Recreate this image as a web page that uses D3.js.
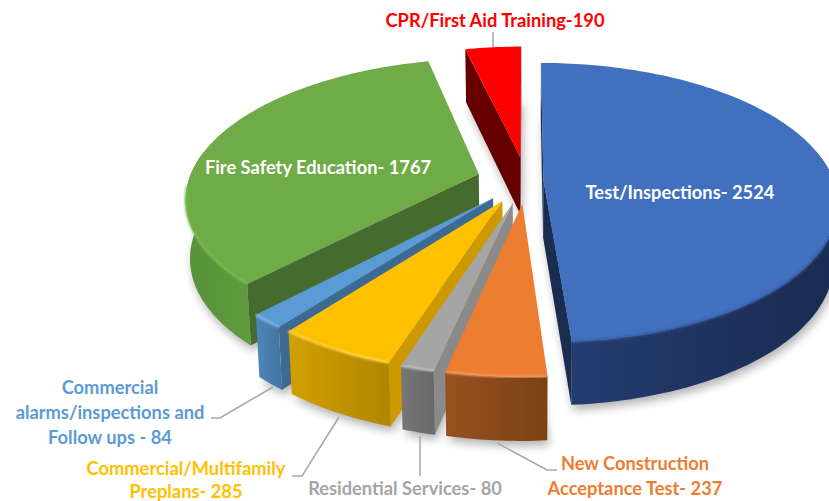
<!DOCTYPE html>
<html>
<head>
<meta charset="utf-8">
<script src="https://cdn.jsdelivr.net/npm/d3@7/dist/d3.min.js"></script>
<style>
  html, body { margin: 0; padding: 0; background: #fff; overflow: hidden; }
  text { font-family: Lato, 'Open Sans', sans-serif; font-weight: 700; font-size: 18.3px; text-anchor: middle; }
</style>
</head>
<body>
<div id="chart"></div>
<script>
// chart data, clockwise from 12 o'clock
var categories = ['Test/Inspections', 'New Construction Acceptance Test', 'Residential Services', 'Commercial/Multifamily Preplans', 'Commercial alarms/inspections and Follow ups', 'Fire Safety Education', 'CPR/First Aid Training']
var values = [2524, 237, 80, 285, 84, 1767, 190]
var labelLines = [
  ['Test/Inspections- 2524'],
  ['New Construction', 'Acceptance Test- 237'],
  ['Residential Services- 80'],
  ['Commercial/Multifamily', 'Preplans- 285'],
  ['Commercial', 'alarms/inspections and', 'Follow ups - 84'],
  ['Fire Safety Education- 1767'],
  ['CPR/First Aid Training-190']
]

// styles
var topColors = ['#4170bf', '#ed7d31', '#a5a5a5', '#ffc000', '#5b9bd5', '#6fab46', '#ff0000']
var faceColors = ['#1a2c50', '#8a4a1c', '#8a8a8a', '#cc9a00', '#3d6a94', '#466b2e', '#660000']
var rimLight = ['#243c70', '#98501f', '#777777', '#d1a000', '#4e86bd', '#57903a', '#660000']
var rimDark = ['#1a2b50', '#7a4215', '#686868', '#b08500', '#44749f', '#5f9c3d', '#660000']
var bevelColors = ['#35599c', '#f7a26a', '#c9c9c9', '#ffdc55', '#8cc2ee', '#7dbb55', '#ff0000']
var textColors = ['#ffffff', '#ed7d31', '#a5a5a5', '#ffc000', '#5b9bd5', '#ffffff', '#ff0000']

// layout
var width = 829
var height = 501
var explode = [0.06, 0.17, 0.17, 0.17, 0.17, 0.17, 0.17]
var drawOrder = [6, 5, 0, 4, 3, 2, 1]
var labelPos = [[680, 199], [635, 470], [405, 495], [186, 475], [110, 394], [318, 174], [495, 27]]
var leaders = [
  [[493, 47], [493, 32]],
  [[497, 443], [547, 470], [557, 470]],
  [[420, 436], [420, 476]],
  [[339, 417], [302, 476], [292, 476]],
  [[273, 387], [220, 418], [211, 418]]
]

// perspective view of the pie plane
var cam = { cx: 526, cy: 180, fx: 290, fy: 136, p: 0.164, depth: 58, pz: 0.0814, shrink: 0.987 }

function project (X, Y, lower) {
  var d = 1 + cam.p * Y
  var sx = cam.cx + cam.fx * X / d
  var sy = cam.cy - cam.fy * Y / d
  if (lower) {
    sx = cam.cx + (sx - cam.cx) * cam.shrink
    sy += cam.depth / (1 + cam.pz * Y)
  }
  return [sx, sy]
}

function polyArea (pts) {
  return d3.sum(pts, function (q, i) {
    var n = pts[(i + 1) % pts.length]
    return q[0] * n[1] - n[0] * q[1]
  })
}

var line = d3.line()
var svg = d3.select('#chart').append('svg')
  .attr('width', width)
  .attr('height', height)
  .style('display', 'block')

var defs = svg.append('defs')
defs.append('filter').attr('id', 'shadowBlur')
  .attr('x', '-20%').attr('y', '-20%').attr('width', '140%').attr('height', '140%')
  .append('feGaussianBlur').attr('stdDeviation', 5)
defs.append('filter').attr('id', 'bevelBlur')
  .attr('x', '-10%').attr('y', '-10%').attr('width', '120%').attr('height', '120%')
  .append('feGaussianBlur').attr('stdDeviation', 0.8)

var pie = d3.pie().sort(null).value(function (d) { return d })
var arcs = pie(values)

var slices = arcs.map(function (a, i) {
  var mid = (a.startAngle + a.endAngle) / 2
  var ex = explode[i] * Math.sin(mid)
  var ey = explode[i] * Math.cos(mid)
  var point = function (ang, lower) {
    return project(ex + Math.sin(ang), ey + Math.cos(ang), lower)
  }
  var outer = function (from, to, lower) {
    var n = Math.max(2, Math.ceil((to - from) / 0.02))
    return d3.range(n + 1).map(function (k) { return point(from + (to - from) * k / n, lower) })
  }
  return {
    i: i,
    a: a,
    apexTop: project(ex, ey, false),
    apexLow: project(ex, ey, true),
    point: point,
    outer: outer
  }
})

// soft shadow behind everything
var shadow = svg.append('g')
  .attr('filter', 'url(#shadowBlur)')
  .attr('transform', 'translate(2,5)')
  .attr('opacity', 0.3)
slices.forEach(function (s) {
  var a = s.a
  shadow.append('path')
    .attr('d', line([s.apexLow].concat(s.outer(a.startAngle, a.endAngle, true))) + 'Z')
    .attr('fill', '#000')
})

var rimMin = 80 * Math.PI / 180
var rimMax = 280 * Math.PI / 180
var bevelMin = 100 * Math.PI / 180
var bevelMax = 265 * Math.PI / 180

drawOrder.forEach(function (i) {
  var s = slices[i]
  var a = s.a
  var g = svg.append('g').attr('class', 'slice').datum(categories[i])

  // flat cut faces, only the ones turned towards the viewer
  var startFace = [s.apexTop, s.point(a.startAngle, false), s.point(a.startAngle, true), s.apexLow]
  var endFace = [s.apexTop, s.point(a.endAngle, false), s.point(a.endAngle, true), s.apexLow]
  if (polyArea(startFace) < 0) {
    g.append('path').attr('d', line(startFace) + 'Z').attr('fill', faceColors[i])
  }
  if (polyArea(endFace) > 0) {
    g.append('path').attr('d', line(endFace) + 'Z').attr('fill', faceColors[i])
  }

  // outer rim
  var from = Math.max(a.startAngle, rimMin)
  var to = Math.min(a.endAngle, rimMax)
  if (to > from) {
    var grad = defs.append('linearGradient').attr('id', 'rim' + i)
    grad.append('stop').attr('offset', '0%').attr('stop-color', rimLight[i])
    grad.append('stop').attr('offset', '100%').attr('stop-color', rimDark[i])
    var rim = s.outer(from, to, false).concat(s.outer(from, to, true).reverse())
    g.append('path').attr('d', line(rim) + 'Z').attr('fill', 'url(#rim' + i + ')')
  }

  // top face
  g.append('path')
    .attr('d', line([s.apexTop].concat(s.outer(a.startAngle, a.endAngle, false))) + 'Z')
    .attr('fill', topColors[i])

  // bevel along the near edge
  var bFrom = Math.max(a.startAngle, bevelMin)
  var bTo = Math.min(a.endAngle, bevelMax)
  if (bTo > bFrom) {
    g.append('path')
      .attr('d', line(s.outer(bFrom, bTo, false)))
      .attr('fill', 'none')
      .attr('stroke', bevelColors[i])
      .attr('stroke-width', 2)
      .attr('filter', 'url(#bevelBlur)')
  }
})

// leader lines
svg.append('g').selectAll('path')
  .data(leaders)
  .enter()
  .append('path')
  .attr('d', function (d) { return line(d) })
  .attr('fill', 'none')
  .attr('stroke', '#a6a6a6')
  .attr('stroke-width', 1.5)

// labels
var labels = svg.append('g').selectAll('text')
  .data(labelLines)
  .enter()
  .append('text')
  .attr('fill', function (d, i) { return textColors[i] })
  .attr('y', function (d, i) { return labelPos[i][1] })

labels.each(function (d, i) {
  d3.select(this).selectAll('tspan')
    .data(d)
    .enter()
    .append('tspan')
    .attr('x', labelPos[i][0])
    .attr('dy', function (t, k) { return k === 0 ? 0 : (i === 4 || i === 1 ? 25 : 23) })
    .text(function (t) { return t })
})
</script>
</body>
</html>
